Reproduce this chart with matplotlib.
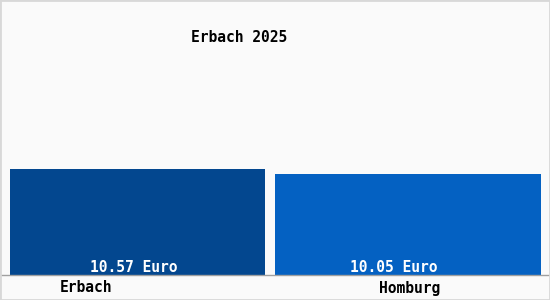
import matplotlib.pyplot as plt

towns = ['Erbach', 'Homburg']
prices = [10.57, 10.05]
value_labels = ['10.57 Euro', '10.05 Euro']
title = 'Erbach 2025'

bar_colors = ['#03478f', '#0461c2']
# bar placement in pixel-like x units (figure is 550 px wide)
bar_left = [10, 275]
bar_width = [255, 266]
value_x = [134, 394]
label_x = [86, 410]

fig = plt.figure(figsize=(5.5, 3), dpi=100)
fig.patch.set_facecolor('#fafafa')

# axes spanning the whole figure width, baseline at 275 px from top
ax = fig.add_axes([0, 25 / 300, 1, 272 / 300])
ax.set_facecolor('#fafafa')
ax.set_xlim(0, 550)
ax.set_ylim(0, 272 / 10.03)

ax.bar(bar_left, prices, width=bar_width, align='edge', color=bar_colors, linewidth=0)

for x, txt in zip(value_x, value_labels):
    ax.text(x, 0.7, txt, ha='center', va='center', color='white',
            family='DejaVu Sans Mono', fontsize=10.5, fontweight='bold')

for sp in ['top', 'left', 'right']:
    ax.spines[sp].set_visible(False)
ax.spines['bottom'].set_color('#a0a0a0')
ax.spines['bottom'].set_linewidth(1)
ax.set_xticks([])
ax.set_yticks([])

for x, t in zip(label_x, towns):
    fig.text(x / 550, 1 - 288 / 300, t, ha='center', va='center',
             family='DejaVu Sans Mono', fontsize=10.5, fontweight='bold', color='black')

fig.text(239 / 550, 1 - 38 / 300, title, ha='center', va='center',
         family='DejaVu Sans Mono', fontsize=10.5, fontweight='bold', color='black')

# light frame around the picture
fig.add_artist(plt.Rectangle((0, 0), 1, 1, transform=fig.transFigure, fill=False,
                             edgecolor='#d8d8d8', linewidth=2))

fig.savefig('out.png', dpi=100, facecolor=fig.get_facecolor())
